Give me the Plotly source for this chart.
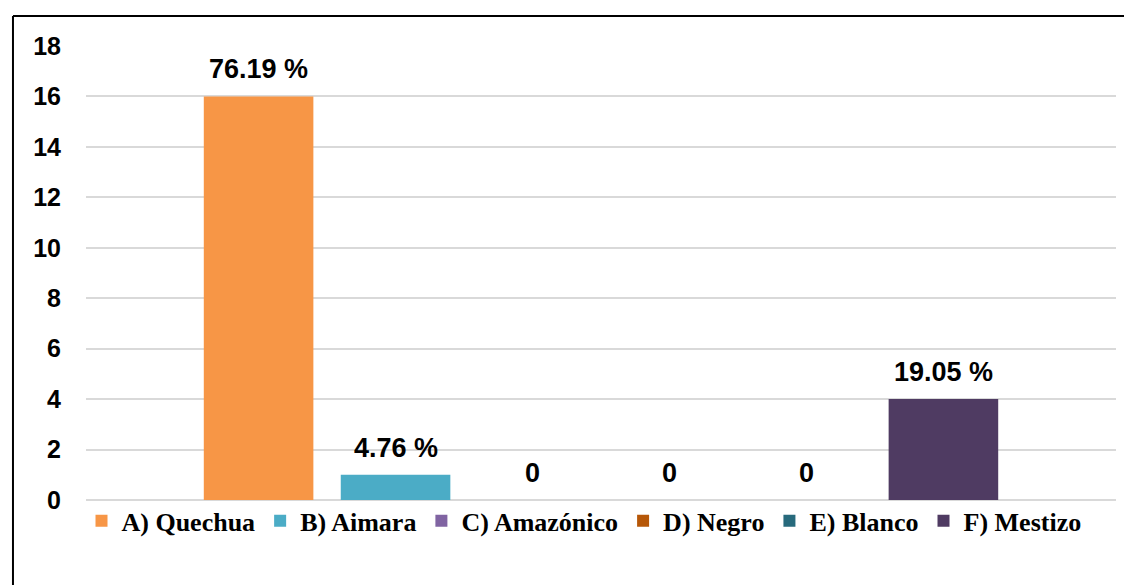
import plotly.graph_objects as go

# data
categories = ["A) Quechua", "B) Aimara", "C) Amazónico", "D) Negro", "E) Blanco", "F) Mestizo"]
counts = [16, 1, 0, 0, 0, 4]
labels = ["76.19 %", "4.76 %", "0", "0", "0", "19.05 %"]
colors = ["#F79646", "#4BACC6", "#8064A2", "#B65708", "#276A7C", "#4F3B62"]
y_ticks = [0, 2, 4, 6, 8, 10, 12, 14, 16, 18]

fig = go.Figure()
for cat, val, col in zip(categories, counts, colors):
    fig.add_trace(go.Bar(x=[cat], y=[val], name=cat, marker=dict(color=col, line=dict(width=0)),
                         hoverinfo="name+y"))

# value labels above bars
for cat, val, lab in zip(categories, counts, labels):
    fig.add_annotation(x=cat, y=val, text=lab, showarrow=False, yanchor="bottom", yshift=10,
                       font=dict(family="Liberation Sans, Arial", size=27, color="#000000", weight="bold"))

# frame around the chart: only the top and left edges are in view
frame = dict(color="#000000", width=2)
fig.add_shape(type="line", xref="paper", yref="paper", x0=-0.0709, x1=1.3, y0=1.066, y1=1.066,
              line=frame, layer="above")
fig.add_shape(type="line", xref="paper", yref="paper", x0=-0.0709, x1=-0.0709, y0=-0.5, y1=1.066,
              line=frame, layer="above")

# figure runs past the right/bottom of the window (the frame is cut off there),
# page body keeps its 8px margin so the margins below are shifted by 8
fig.update_layout(
    width=1160, height=620,
    margin=dict(l=78, r=52, t=38, b=128),
    paper_bgcolor="white", plot_bgcolor="white",
    barmode="overlay", bargap=0.2,
    showlegend=True,
    legend=dict(orientation="h", x=0.4835, xanchor="center", y=-0.046, yanchor="middle",
                bgcolor="rgba(0,0,0,0)",
                font=dict(family="Liberation Serif, Times New Roman", size=26, color="#000000", weight="bold"),
                itemwidth=30, traceorder="normal"),
    xaxis=dict(type="category", range=[-1.26, 6.26], showticklabels=False, showgrid=False,
               zeroline=False, showline=False),
    yaxis=dict(range=[0, 18], tickvals=y_ticks, showgrid=True, gridcolor="#D9D9D9", gridwidth=1.5,
               zeroline=True, zerolinecolor="#D9D9D9", zerolinewidth=1.5, showline=False,
               ticklabelstandoff=24,
               tickfont=dict(family="Liberation Sans, Arial", size=25, color="#000000", weight="bold")),
)

fig.write_html("out.html", post_script="document.body.style.overflow='hidden';")
